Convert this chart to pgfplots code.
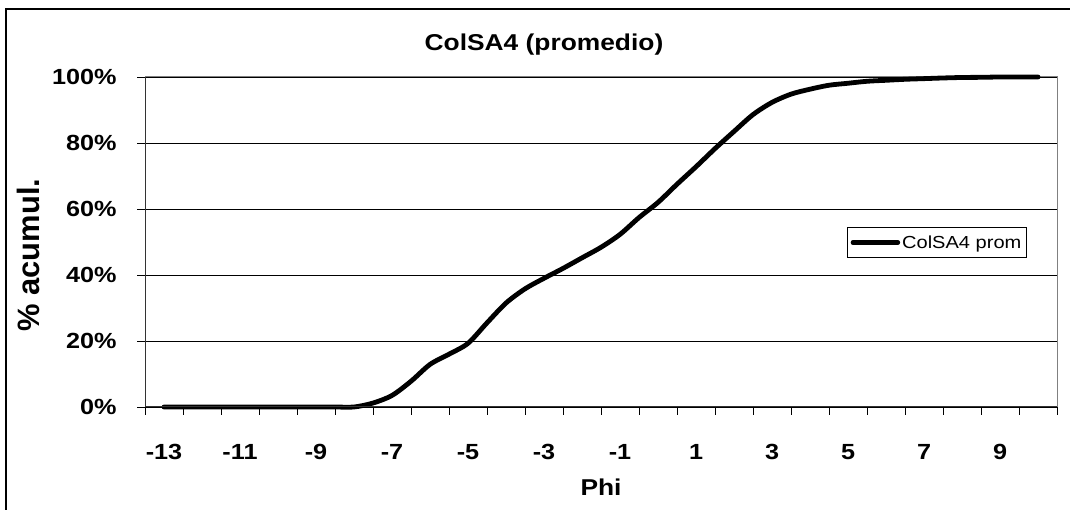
\documentclass[border=0pt]{standalone}
\usepackage{fontspec}
\setmainfont{Liberation Sans}[FakeStretch=1.15]
\newfontfamily\ylabfont{Liberation Sans}
\usepackage{pgfplots}
\pgfplotsset{compat=1.18}
\definecolor{axgray}{RGB}{128,128,128}
\begin{document}
\begin{tikzpicture}[x=1bp,y=1bp]
\useasboundingbox (0,0) rectangle (1070,510);
\fill[white] (0,0) rectangle (1070,510);
\draw[line width=1.2bp] (6,0) -- (6,501) -- (1070,501);
\node[font=\fontsize{23}{27}\selectfont\bfseries, anchor=base] at (544,459) {ColSA4 (promedio)};
\node[font=\ylabfont\fontsize{31}{36}\selectfont\bfseries, rotate=90] at (28,255) {\% acumul.};
\node[font=\fontsize{23}{27}\selectfont\bfseries, anchor=base] at (601,14) {Phi};
\begin{axis}[
  at={(145bp,103bp)}, anchor=south west,
  width=912bp, height=330bp, scale only axis,
  xmin=-13.5, xmax=10.5, ymin=0, ymax=100,
  clip=false,
  axis line style={draw=axgray, line width=1bp},
  xtick={-13,-11,...,9},
  xticklabels={-13,-11,-9,-7,-5,-3,-1,1,3,5,7,9},
  major x tick style={draw=none},
  minor xtick={-13.5,-12.5,...,10.5},
  ytick={0,20,...,100},
  yticklabels={0\%,20\%,40\%,60\%,80\%,100\%},
  tick align=outside, tick pos=left,
  major tick length=8bp, minor tick length=8bp,
  every tick/.style={black, line width=0.8bp},
  minor x tick style={black, line width=0.8bp},
  ymajorgrids, grid style={black, line width=0.8bp},
  ticklabel style={font=\fontsize{22}{26}\selectfont\bfseries},
  xticklabel style={yshift=-26bp},
  yticklabel style={xshift=-17bp},
  legend style={at={(0.77,0.5455)}, anchor=north west, draw=black, line width=0.8bp,
    font=\fontsize{17.5}{21}\selectfont, inner xsep=3bp, inner ysep=6bp, legend cell align=left},
  legend image code/.code={\draw[line width=4.5bp] (0bp,0bp) -- (45bp,0bp);},
]
\addplot[black, line width=4.8bp, smooth, tension=0.5, line cap=round, line join=round] coordinates {
(-13,0) (-12.5,0) (-12,0) (-11.5,0) (-11,0) (-10.5,0) (-10,0) (-9.5,0) (-9,0) (-8.5,0) (-8,0)
(-7.5,1.2) (-7,3.5) (-6.5,7.8) (-6,12.9) (-5.5,16) (-5,19.3) (-4.5,25.5) (-4,31.5)
(-3.5,35.8) (-3,39) (-2.5,42) (-2,45.2) (-1.5,48.4) (-1,52.3) (-0.5,57.4) (0,62) (0.5,67.5)
(1,72.8) (1.5,78.3) (2,83.5) (2.5,88.6) (3,92.3) (3.5,94.8) (4,96.3) (4.5,97.5) (5,98.1)
(5.5,98.7) (6,99.0) (6.5,99.3) (7,99.5) (7.5,99.7) (8,99.85) (8.5,99.9) (9,100) (9.5,100) (10,100)
};
\addlegendentry{ColSA4 prom}
\draw[black!80, line width=1bp] (rel axis cs:0,1) -- (rel axis cs:0,0) -- (rel axis cs:1,0);
\end{axis}
\end{tikzpicture}
\end{document}
